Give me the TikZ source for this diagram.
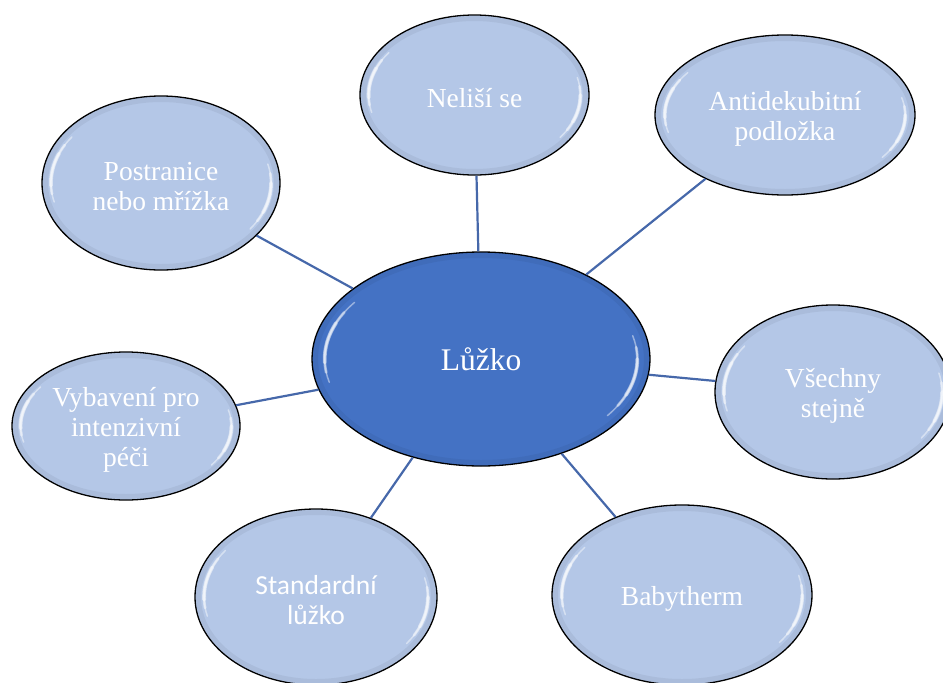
\documentclass[tikz,border=0pt]{standalone}
\usepackage{fontspec}
\setmainfont{Liberation Serif}
\newfontfamily\calib{Carlito}
\usetikzlibrary{shapes.geometric}
\definecolor{hubcol}{HTML}{4472C4}
\definecolor{leafcol}{HTML}{B4C7E7}
\definecolor{linkcol}{HTML}{4668AA}
\tikzset{
  bubble/.style={ellipse, draw=black, line width=1.3pt, inner sep=0pt, fill=leafcol},
  hubble/.style={bubble, fill=hubcol},
  leaftext/.style={text=white, align=center, inner sep=0pt, font=\fontsize{27.5}{30}\selectfont},
  hubtext/.style={leaftext, font=\fontsize{31.5}{34}\selectfont},
  link/.style={draw=linkcol, line width=2.2pt},
  glint/.style={white, line cap=round, opacity=0.45},
  rim/.style={black, line width=5pt, opacity=0.05},
}
% style, name, cx, cy, rx, ry, textstyle, text
\newcommand\bub[8]{%
  \node[#1, minimum width={2*#5 pt}, minimum height={2*#6 pt}] (#2) at (#3,#4) {};
  \node[#7] (#2-t) at (#3,{#4+3.5}) {#8};}
\newcommand\arcpiece[7]{% cx cy rx ry a b width
  \draw[glint, line width=#7] ({#1+0.925*#3*cos(#5)},{#2+0.90*#4*sin(#5)})
     arc[start angle=#5, end angle=#6, x radius={0.925*#3}, y radius={0.90*#4}];}
\newcommand\shine[4]{%
  \draw[rim] (#1,#2) ellipse[x radius={#3-3.5}, y radius={#4-3.5}];
  \arcpiece{#1}{#2}{#3}{#4}{166}{216}{1.5pt}
  \arcpiece{#1}{#2}{#3}{#4}{172}{209}{2.8pt}
  \arcpiece{#1}{#2}{#3}{#4}{178}{202}{3.8pt}
  \arcpiece{#1}{#2}{#3}{#4}{-14}{36}{1.5pt}
  \arcpiece{#1}{#2}{#3}{#4}{-7}{29}{2.8pt}
  \arcpiece{#1}{#2}{#3}{#4}{0}{22}{3.8pt}}
\begin{document}
\begin{tikzpicture}[x=1pt, y=1pt, yscale=-1]
\useasboundingbox (0,0) rectangle (943,683);
\clip (0,0) rectangle (943,683);
% outer bubbles
\bub{bubble}{nelisi}{474.5}{95}{114.5}{80}{leaftext}{Neliší se}
\bub{bubble}{anti}{785}{115}{130}{80}{leaftext}{Antidekubitní\\podložka}
\bub{bubble}{postr}{161}{183}{119}{87}{leaftext}{Postranice\\nebo mřížka}
\bub{bubble}{vsech}{833}{392}{118}{87}{leaftext}{Všechny\\stejně}
\bub{bubble}{vybav}{126}{426}{114}{74}{leaftext}{Vybavení pro\\intenzivní\\péči}
\bub{bubble}{stand}{316}{597}{121}{88}{leaftext}{{\calib Standardní}\\{\calib lůžko}}
\bub{bubble}{baby}{682}{595}{130}{90}{leaftext}{Babytherm}
% hub
\node[hubble, minimum width=338pt, minimum height=214pt] (hub) at (481,359) {};
\node[hubtext] (hub-t) at (481,359) {Lůžko};
% connectors
\draw[link] (hub) -- (nelisi);
\draw[link] (hub) -- (anti);
\draw[link] (hub) -- (postr);
\draw[link] (hub) -- (vsech);
\draw[link] (hub) -- (vybav);
\draw[link] (hub) -- (stand);
\draw[link] (hub) -- (baby);
% gloss
\shine{474.5}{95}{114.5}{80}
\shine{785}{115}{130}{80}
\shine{161}{183}{119}{87}
\shine{833}{392}{118}{87}
\shine{126}{426}{114}{74}
\shine{316}{597}{121}{88}
\shine{682}{595}{130}{90}
\shine{481}{359}{169}{107}
\end{tikzpicture}
\end{document}
